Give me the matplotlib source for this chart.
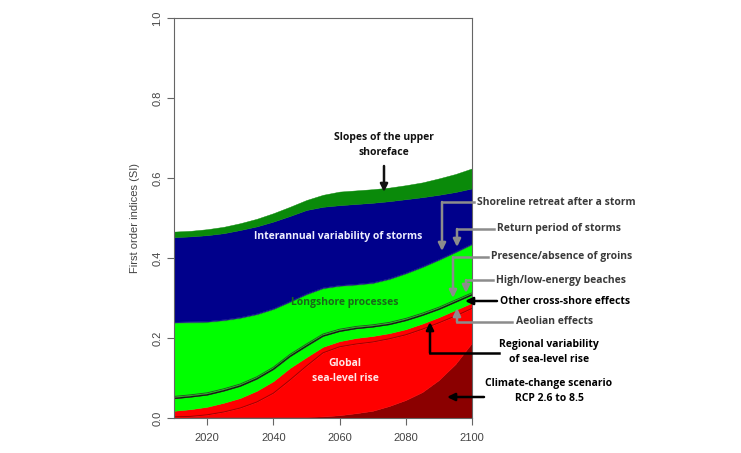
import numpy as np
import matplotlib.pyplot as plt
from matplotlib.lines import Line2D

# years (x axis)
years = [2010, 2015, 2020, 2025, 2030, 2035, 2040, 2045, 2050, 2055,
         2060, 2065, 2070, 2075, 2080, 2085, 2090, 2095, 2100]

# first order indices per factor (stacked from the bottom)
climate = [.003, .003, .003, .003, .003, .003, .003, .003, .003, .004,
           .007, .012, .018, .030, .045, .065, .095, .135, .188]
global_slr = [.000, .001, .005, .012, .022, .037, .059, .092, .127, .159,
              .171, .173, .172, .168, .163, .157, .143, .120, .086]
regional = [.015, .018, .020, .023, .025, .028, .030, .030, .022, .015,
            .014, .015, .015, .014, .014, .014, .014, .015, .014]
aeolian = [.031, .031, .030, .030, .030, .030, .030, .029, .028, .027,
           .025, .024, .023, .022, .022, .021, .020, .020, .020]
cross_shore = [.002] * 19
high_low = [.0015] * 19
groins = [.0015] * 19
longshore = [.183, .180, .176, .170, .164, .155, .144, .130, .123, .113,
             .107, .103, .103, .107, .111, .114, .117, .118, .120]
return_period = [.002] * 19
retreat = [.002] * 19
interannual = [.211, .212, .214, .215, .217, .217, .216, .212, .208, .201,
               .199, .199, .198, .192, .183, .172, .160, .148, .137]
slopes = [.014, .014, .015, .016, .017, .019, .021, .023, .025, .030,
          .034, .034, .034, .034, .035, .037, .041, .045, .050]

layers = [climate, global_slr, regional, aeolian, cross_shore, high_low, groins,
          longshore, return_period, retreat, interannual, slopes]
colors = ['#8b0000', '#ff0000', '#ff0000', '#00ff00', '#1f3a1f', '#9aa88a', '#4a6a3a',
          '#00ff00', '#00cc00', '#1a1a8b', '#00008b', '#0a8a0a']

fig = plt.figure(figsize=(7.41, 4.53), dpi=100)
ax = fig.add_axes([174 / 741, 35 / 453, 298 / 741, 400 / 453])

polys = ax.stackplot(years, layers, colors=colors, linewidth=0.3)
for p, c in zip(polys, colors):
    p.set_edgecolor(c)

# thin border lines between some layers
tops = np.cumsum(np.array(layers), axis=0)
ax.plot(years, tops[1], color='#a00000', lw=0.7)
ax.plot(years, tops[3], color='#0d200d', lw=0.9)
ax.plot(years, tops[6], color='#2a4a2a', lw=0.6)

ax.set_xlim(2010, 2100)
ax.set_ylim(0, 1)
ax.set_xticks([2020, 2040, 2060, 2080, 2100])
ax.set_yticks([0, 0.2, 0.4, 0.6, 0.8, 1.0])
ax.set_yticklabels(['0.0', '0.2', '0.4', '0.6', '0.8', '1.0'], rotation=90, va='center')
for s in ax.spines.values():
    s.set_color('#666666')
    s.set_linewidth(0.8)
ax.tick_params(colors='#666666', labelcolor='#444444', labelsize=8, length=5, width=0.8)
ax.tick_params(axis='x', pad=6)
for lab in ax.get_xticklabels() + ax.get_yticklabels():
    lab.set_family('Liberation Sans')
ax.set_ylabel('First order indices (SI)', fontsize=8, color='#444444',
              family='Liberation Sans', labelpad=9)

H = 453


def fp(x, y):
    return (x / 741, 1 - y / H)


def elbow(pts, color):
    # polyline in image pixels, the last segment ends in an arrow
    xs = [p[0] / 741 for p in pts[:-1]]
    ys = [1 - p[1] / H for p in pts[:-1]]
    fig.add_artist(Line2D(xs, ys, transform=fig.transFigure, color=color, lw=1.8))
    ax.annotate('', xy=fp(*pts[-1]), xytext=fp(*pts[-2]),
                xycoords='figure fraction', textcoords='figure fraction',
                arrowprops=dict(arrowstyle='-|>,head_length=0.45,head_width=0.22',
                                color=color, lw=1.8, shrinkA=0, shrinkB=0))


grey = '#8c8c8c'
tcol = '#3a3a3a'
font = dict(family='Open Sans', fontweight='bold', fontsize=7.5)

# labels inside the plot
fig.text(*fp(384, 145), 'Slopes of the upper\nshoreface', ha='center', va='center',
         color='#111111', linespacing=1.5, **font)
elbow([(384, 166), (384, 192)], '#111111')
fig.text(*fp(338, 237), 'Interannual variability of storms', ha='center', va='center',
         color='#eeeeff', **font)
fig.text(*fp(345, 302), 'Longshore processes', ha='center', va='center',
         color='#1a661a', **font)
fig.text(*fp(345, 371), 'Global\nsea-level rise', ha='center', va='center',
         color='#ffe6e6', linespacing=1.6, **font)

# labels on the right with elbow arrows
fig.text(*fp(477, 202), 'Shoreline retreat after a storm', ha='left', va='center', color=tcol, **font)
elbow([(474, 202), (442, 202), (442, 251)], grey)
fig.text(*fp(497, 229), 'Return period of storms', ha='left', va='center', color=tcol, **font)
elbow([(494, 229), (457, 229), (457, 247)], grey)
fig.text(*fp(491, 257), 'Presence/absence of groins', ha='left', va='center', color=tcol, **font)
elbow([(488, 257), (453, 257), (453, 298)], grey)
fig.text(*fp(496, 280), 'High/low-energy beaches', ha='left', va='center', color=tcol, **font)
elbow([(493, 280), (466, 280), (466, 293)], grey)
fig.text(*fp(500, 301), 'Other cross-shore effects', ha='left', va='center', color='#000000', **font)
elbow([(497, 301), (465, 301)], '#000000')
fig.text(*fp(516, 322), 'Aeolian effects', ha='left', va='center', color=tcol, **font)
elbow([(512, 322), (457, 322), (457, 308)], grey)
fig.text(*fp(549, 352), 'Regional variability\nof sea-level rise', ha='center', va='center',
         color='#000000', linespacing=1.6, **font)
elbow([(499, 353), (430, 353), (430, 322)], '#000000')
fig.text(*fp(549, 391), 'Climate-change scenario\nRCP 2.6 to 8.5', ha='center', va='center',
         color='#000000', linespacing=1.6, **font)
elbow([(484, 397), (447, 397)], '#000000')

fig.savefig('out.png', dpi=100)
